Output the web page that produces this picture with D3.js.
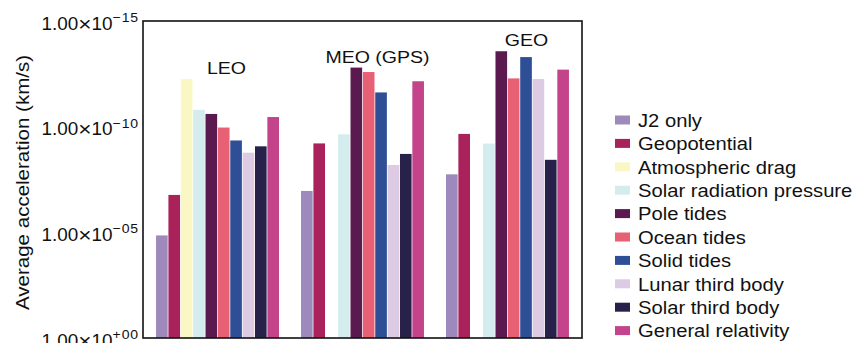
<!DOCTYPE html>
<html>
<head>
<meta charset="utf-8">
<script src="https://cdn.jsdelivr.net/npm/d3@7"></script>
<style>
  html, body { margin: 0; padding: 0; background: #ffffff; }
  svg { display: block; }
  text { font-family: "Liberation Sans", Arial, Helvetica, sans-serif; fill: #111; }
</style>
</head>
<body>
<svg id="chart" width="863" height="343"></svg>
<script>
// ---- data ----
const groups = ["LEO", "MEO (GPS)", "GEO"];
const series = ["J2 only", "Geopotential", "Atmospheric drag", "Solar radiation pressure",
  "Pole tides", "Ocean tides", "Solid tides", "Lunar third body", "Solar third body", "General relativity"];
const colors = ["#9d89bb", "#a9225a", "#fbf7c4", "#d4ecee", "#5b1a4f",
  "#e86074", "#2e4e95", "#dccbe2", "#28224b", "#c3448a"];
const leoValues = [1.4e-5, 1.7e-7, 5.6e-13, 1.6e-11, 2.5e-11, 1.1e-10, 4.5e-10, 1.7e-9, 8.5e-10, 3.5e-11];
const meoValues = [1.1e-7, 6.2e-10, null, 2.3e-10, 1.6e-13, 2.6e-13, 2.4e-12, 6.5e-9, 1.95e-9, 7.1e-13];
const geoValues = [1.8e-8, 2.2e-10, null, 6.3e-10, 2.7e-14, 5.2e-13, 5.1e-14, 5.6e-13, 3.7e-9, 2.0e-13];
const yTicks = [1e-15, 1e-10, 1e-5, 1e0];
const yTitle = "Average acceleration (km/s)";

const groupValues = [leoValues, meoValues, geoValues];

// ---- layout ----
const svg = d3.select("#chart");
const L = 143, R = 582, T = 21, B = 338;

const x0 = d3.scaleBand().domain(groups).range([L, R]).paddingInner(0.152).paddingOuter(0.09);
const x1 = d3.scaleBand().domain(series).range([0, x0.bandwidth()]).paddingInner(0.06).paddingOuter(0);
const y = d3.scaleLog().domain([1e0, 1e-15]).range([B, T]);
const color = d3.scaleOrdinal().domain(series).range(colors);

// helper: horizontally stretched text
function stretchText(parent, tx, ty, sx, rot) {
  const g = parent.append("g")
    .attr("transform", `translate(${tx},${ty})` + (rot ? ` rotate(${rot})` : "") + ` scale(${sx},1)`);
  return g.append("text");
}

// bars
groups.forEach((grp, gi) => {
  const gSel = svg.append("g").attr("transform", `translate(${x0(grp)},0)`);
  series.forEach((s, si) => {
    const v = groupValues[gi][si];
    if (v == null) return;
    gSel.append("rect")
      .attr("x", x1(s))
      .attr("y", y(v))
      .attr("width", x1.bandwidth())
      .attr("height", y(1) - y(v))
      .attr("fill", color(s));
  });
});

// frame
svg.append("rect")
  .attr("x", L).attr("y", T).attr("width", R - L).attr("height", B - T)
  .attr("fill", "none").attr("stroke", "#111").attr("stroke-width", 1.6);

// y tick labels
const yAxisG = svg.append("g");
yTicks.forEach(v => {
  const e = Math.round(Math.log10(v));
  const expStr = (e < 0 ? "\u2212" : "+") + String(Math.abs(e)).padStart(2, "0");
  const t = stretchText(yAxisG, 139, y(v) + 8.5, 1.08)
    .attr("text-anchor", "end")
    .style("font-size", "17.5px");
  t.append("tspan").text("1.00");
  t.append("tspan").style("font-size", "21px").attr("dy", 1).text("\u00D7");
  t.append("tspan").attr("dy", -1).text("10");
  t.append("tspan").attr("dy", -7.5).style("font-size", "13px").attr("letter-spacing", "0.8px").text(expStr);
});

// y title
stretchText(svg, 28.5, (T + B) / 2 + 3, 1.14, -90)
  .attr("text-anchor", "middle")
  .style("font-size", "18px")
  .text(yTitle);

// group labels
const labelDx = [9, 15, 19];
groups.forEach((grp, gi) => {
  const maxTop = d3.min(groupValues[gi].filter(v => v != null).map(v => y(v)));
  stretchText(svg, x0(grp) + x0.bandwidth() / 2 + labelDx[gi], maxTop - 5, 1.15)
    .attr("text-anchor", "middle")
    .style("font-size", "17px")
    .text(grp);
});

// legend
const legend = svg.append("g");
series.forEach((s, i) => {
  const cy = 120 + i * 23.4;
  legend.append("rect")
    .attr("x", 615).attr("y", cy - 4.5).attr("width", 15).attr("height", 9)
    .attr("fill", color(s));
  stretchText(legend, 638, cy + 6.7, 1.08)
    .style("font-size", "18.7px")
    .text(s);
});
</script>
</body>
</html>
